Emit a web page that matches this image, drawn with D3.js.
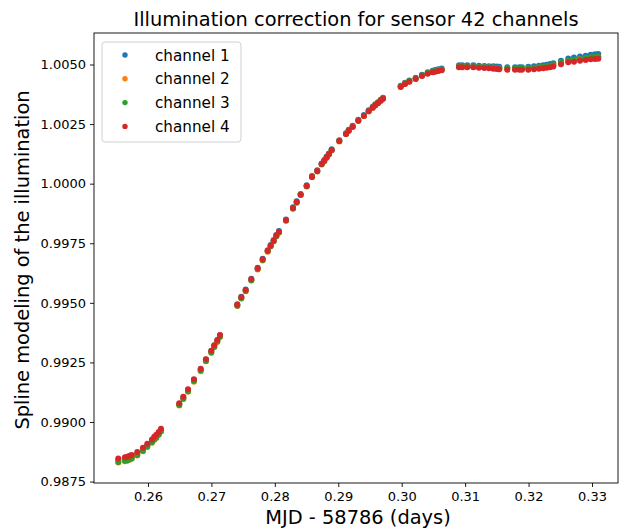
<!DOCTYPE html>
<html>
<head>
<meta charset="utf-8">
<script src="https://cdn.jsdelivr.net/npm/d3@7"></script>
<style>
  body { margin: 0; background: #fff; }
  text { font-family: "DejaVu Sans", sans-serif; fill: #000; }
</style>
</head>
<body>
<div id="graph"></div>
<script>
"use strict";

var width = 619,
    height = 529;

// MJD - 58786 (days), shared by all channels
const mjd = [
  0.25532, 0.25637, 0.25674, 0.25711, 0.25743, 0.25831, 0.25921, 0.25989, 0.26063, 0.26099, 0.26131, 0.26169, 0.26205,
  0.26493, 0.26557, 0.26631, 0.26725, 0.26831, 0.26914, 0.26998, 0.27045, 0.27093, 0.27135,
  0.27408, 0.27471, 0.27540, 0.27629, 0.27729, 0.27808, 0.27887, 0.27934, 0.27981, 0.28023, 0.28065, 0.28176, 0.28286, 0.28344,
  0.28407, 0.28502, 0.28586, 0.28669, 0.28738, 0.28779, 0.28817, 0.28854, 0.28896, 0.29016, 0.29122, 0.29164, 0.29227, 0.29316, 0.29405, 0.29480, 0.29543, 0.29584, 0.29626, 0.29669, 0.29705,
  0.29984, 0.30052, 0.30120, 0.30220, 0.30320, 0.30410, 0.30488, 0.30529, 0.30577, 0.30630,
  0.30903, 0.30955, 0.31034, 0.31129, 0.31218, 0.31302, 0.31376, 0.31444, 0.31497, 0.31538, 0.31665, 0.31786, 0.31854, 0.31896, 0.31996, 0.32085, 0.32164, 0.32232, 0.32286, 0.32338, 0.32390,
  0.32511, 0.32626, 0.32716, 0.32811, 0.32901, 0.32979, 0.33047, 0.33099
];

const channel1 = [
  0.98840, 0.98845, 0.98847, 0.98851, 0.98855, 0.98867, 0.98885, 0.98902, 0.98920, 0.98931, 0.98939, 0.98951, 0.98965,
  0.99076, 0.99103, 0.99134, 0.99176, 0.99220, 0.99262, 0.99298, 0.99321, 0.99343, 0.99364,
  0.99494, 0.99525, 0.99556, 0.99601, 0.99647, 0.99685, 0.99721, 0.99743, 0.99764, 0.99785, 0.99801, 0.99850, 0.99901, 0.99926,
  0.99957, 0.99993, 1.00032, 1.00056, 1.00085, 1.00099, 1.00114, 1.00127, 1.00144, 1.00182, 1.00212, 1.00226, 1.00243, 1.00268, 1.00288, 1.00308, 1.00323, 1.00333, 1.00342, 1.00352, 1.00360,
  1.00411, 1.00423, 1.00433, 1.00444, 1.00457, 1.00468, 1.00474, 1.00477, 1.00480, 1.00483,
  1.00497, 1.00497, 1.00497, 1.00497, 1.00495, 1.00494, 1.00493, 1.00493, 1.00492, 1.00491, 1.00489, 1.00489, 1.00489, 1.00489, 1.00491, 1.00493, 1.00495, 1.00497, 1.00499, 1.00502, 1.00505,
  1.00516, 1.00525, 1.00529, 1.00534, 1.00537, 1.00541, 1.00543, 1.00544
];

const channel2 = [
  0.98830, 0.98835, 0.98837, 0.98842, 0.98846, 0.98859, 0.98877, 0.98895, 0.98913, 0.98925, 0.98933, 0.98946, 0.98960,
  0.99069, 0.99096, 0.99127, 0.99169, 0.99213, 0.99255, 0.99291, 0.99314, 0.99336, 0.99357,
  0.99487, 0.99518, 0.99549, 0.99594, 0.99640, 0.99678, 0.99714, 0.99737, 0.99758, 0.99779, 0.99795, 0.99844, 0.99895, 0.99920,
  0.99952, 0.99988, 1.00027, 1.00051, 1.00080, 1.00094, 1.00109, 1.00122, 1.00139, 1.00177, 1.00208, 1.00222, 1.00239, 1.00264, 1.00284, 1.00304, 1.00319, 1.00329, 1.00338, 1.00348, 1.00356,
  1.00407, 1.00419, 1.00429, 1.00440, 1.00453, 1.00463, 1.00469, 1.00472, 1.00475, 1.00478,
  1.00491, 1.00491, 1.00491, 1.00491, 1.00489, 1.00488, 1.00487, 1.00486, 1.00485, 1.00484, 1.00482, 1.00482, 1.00482, 1.00482, 1.00483, 1.00485, 1.00487, 1.00489, 1.00491, 1.00494, 1.00497,
  1.00507, 1.00515, 1.00518, 1.00523, 1.00526, 1.00529, 1.00530, 1.00531
];

const channel3 = [
  0.98832, 0.98837, 0.98839, 0.98844, 0.98848, 0.98861, 0.98879, 0.98897, 0.98915, 0.98927, 0.98935, 0.98948, 0.98962,
  0.99071, 0.99098, 0.99129, 0.99172, 0.99216, 0.99256, 0.99292, 0.99316, 0.99338, 0.99359,
  0.99488, 0.99519, 0.99550, 0.99595, 0.99642, 0.99680, 0.99716, 0.99737, 0.99758, 0.99779, 0.99795, 0.99845, 0.99896, 0.99921,
  0.99953, 0.99989, 1.00028, 1.00052, 1.00081, 1.00095, 1.00110, 1.00124, 1.00141, 1.00179, 1.00208, 1.00222, 1.00239, 1.00264, 1.00285, 1.00305, 1.00320, 1.00330, 1.00339, 1.00349, 1.00357,
  1.00408, 1.00420, 1.00430, 1.00441, 1.00454, 1.00464, 1.00470, 1.00473, 1.00476, 1.00479,
  1.00492, 1.00492, 1.00492, 1.00492, 1.00490, 1.00489, 1.00488, 1.00487, 1.00486, 1.00485, 1.00483, 1.00483, 1.00483, 1.00483, 1.00484, 1.00486, 1.00488, 1.00490, 1.00492, 1.00495, 1.00498,
  1.00508, 1.00516, 1.00519, 1.00523, 1.00527, 1.00530, 1.00531, 1.00532
];

const channel4 = [
  0.98847, 0.98852, 0.98854, 0.98858, 0.98862, 0.98874, 0.98892, 0.98909, 0.98927, 0.98938, 0.98946, 0.98958, 0.98972,
  0.99079, 0.99106, 0.99137, 0.99179, 0.99223, 0.99263, 0.99299, 0.99322, 0.99344, 0.99365,
  0.99492, 0.99523, 0.99554, 0.99599, 0.99645, 0.99683, 0.99719, 0.99740, 0.99761, 0.99782, 0.99798, 0.99847, 0.99898, 0.99923,
  0.99954, 0.99990, 1.00029, 1.00053, 1.00082, 1.00096, 1.00111, 1.00124, 1.00141, 1.00179, 1.00208, 1.00222, 1.00239, 1.00264, 1.00284, 1.00304, 1.00319, 1.00329, 1.00338, 1.00348, 1.00356,
  1.00406, 1.00418, 1.00428, 1.00439, 1.00452, 1.00461, 1.00467, 1.00470, 1.00473, 1.00476,
  1.00488, 1.00488, 1.00488, 1.00488, 1.00486, 1.00485, 1.00484, 1.00482, 1.00481, 1.00480, 1.00478, 1.00478, 1.00478, 1.00478, 1.00478, 1.00480, 1.00482, 1.00484, 1.00486, 1.00489, 1.00492,
  1.00501, 1.00509, 1.00512, 1.00516, 1.00519, 1.00522, 1.00523, 1.00524
];

const channelNames = ["channel 1", "channel 2", "channel 3", "channel 4"];
const channelColors = ["#1f77b4", "#ff7f0e", "#2ca02c", "#d62728"];
const xTicks = [0.26, 0.27, 0.28, 0.29, 0.30, 0.31, 0.32, 0.33];
const yTicks = [0.9875, 0.9900, 0.9925, 0.9950, 0.9975, 1.0000, 1.0025, 1.0050];

const plotLeft = 94, plotTop = 33, plotRight = 618, plotBottom = 483;

let svg = d3.select("#graph")
  .append("svg")
  .attr("width", width)
  .attr("height", height);

let x = d3.scaleLinear()
  .domain([0.25149, 0.33410])
  .range([plotLeft, plotRight]);

let y = d3.scaleLinear()
  .domain([0.98744, 1.006322])
  .range([plotBottom, plotTop]);

// points, drawn channel 1 first so channel 4 ends up on top
let series = [channel1, channel2, channel3, channel4];
series.forEach(function (vals, i) {
  svg.append("g")
    .selectAll("circle")
    .data(vals)
    .enter()
    .append("circle")
    .attr("cx", (d, j) => x(mjd[j]))
    .attr("cy", d => y(d))
    .attr("r", 3)
    .attr("fill", channelColors[i]);
});

// axes
let xAxis = svg.append("g")
  .attr("transform", "translate(0," + plotBottom + ")")
  .call(d3.axisBottom(x).tickValues(xTicks).tickFormat(d3.format(".2f")).tickSize(4).tickPadding(5));

let yAxis = svg.append("g")
  .attr("transform", "translate(" + plotLeft + ",0)")
  .call(d3.axisLeft(y).tickValues(yTicks).tickFormat(d3.format(".4f")).tickSize(4).tickPadding(4));

[xAxis, yAxis].forEach(function (a) {
  a.selectAll("text").style("font-size", "13px").style("font-family", "DejaVu Sans");
  a.selectAll("line").attr("stroke", "#000").attr("stroke-width", 0.9);
  a.select(".domain").remove();
});

// frame
svg.append("rect")
  .attr("x", plotLeft).attr("y", plotTop)
  .attr("width", plotRight - plotLeft).attr("height", plotBottom - plotTop)
  .attr("fill", "none")
  .attr("stroke", "#000")
  .attr("stroke-width", 0.9);

// title and labels
svg.append("text")
  .attr("x", (plotLeft + plotRight) / 2)
  .attr("y", 26)
  .attr("text-anchor", "middle")
  .style("font-size", "19.4px")
  .text("Illumination correction for sensor 42 channels");

svg.append("text")
  .attr("x", (plotLeft + plotRight) / 2 + 2)
  .attr("y", 524)
  .attr("text-anchor", "middle")
  .style("font-size", "19.4px")
  .text("MJD - 58786 (days)");

svg.append("text")
  .attr("transform", "translate(29," + ((plotTop + plotBottom) / 2 + 2) + ") rotate(-90)")
  .attr("text-anchor", "middle")
  .style("font-size", "19.4px")
  .text("Spline modeling of the illumination");

// legend
let legend = svg.append("g");
legend.append("rect")
  .attr("x", 102).attr("y", 42)
  .attr("width", 139).attr("height", 100)
  .attr("rx", 3)
  .attr("fill", "#fff")
  .attr("fill-opacity", 0.8)
  .attr("stroke", "#d0d0d0");

channelNames.forEach(function (name, i) {
  let ly = 55 + i * 23.8;
  legend.append("circle")
    .attr("cx", 125).attr("cy", ly)
    .attr("r", 2.7)
    .attr("fill", channelColors[i]);
  legend.append("text")
    .attr("x", 155).attr("y", ly + 5.5)
    .style("font-size", "15.2px")
    .text(name);
});
</script>
</body>
</html>
